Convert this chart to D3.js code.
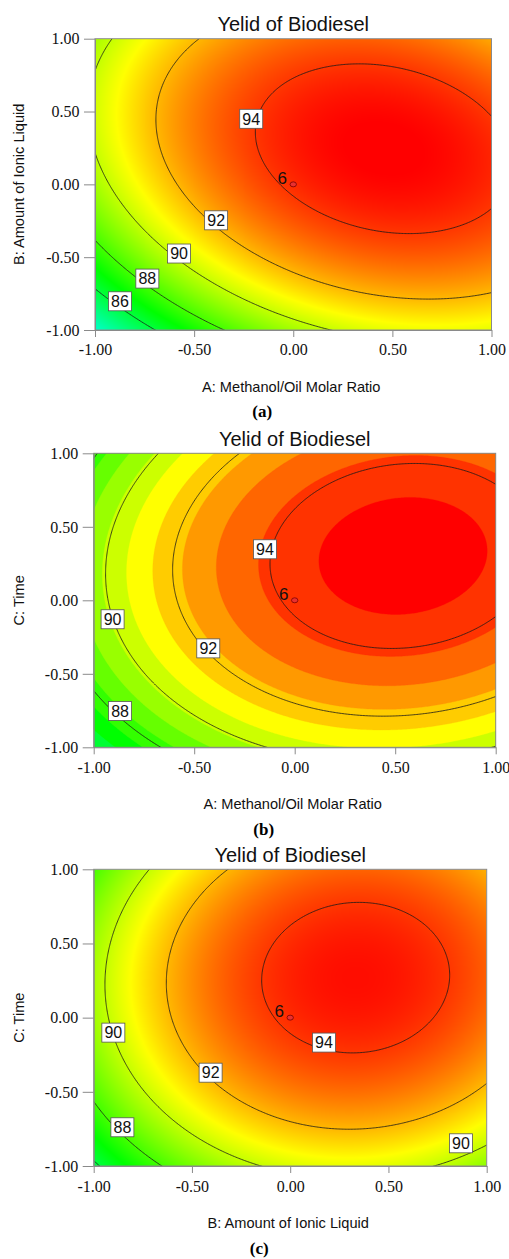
<!DOCTYPE html>
<html><head><meta charset="utf-8">
<script src="https://cdn.jsdelivr.net/npm/d3@7"></script>
<style>body{margin:0;background:#fff}svg{display:block}</style>
</head><body>
<svg id="chart" width="509" height="1259"></svg>
<script>
// ---- data ----
// quadratic response-surface coefficients (coded factors), terms in this order:
const modelTerms = ["Intercept", "A", "B", "C", "AB", "AC", "BC", "A^2", "B^2", "C^2"];
const modelCoefs = [94.168, 2.354, 1.857, 1.311, -0.996, 0.416, 0.186, -2.300, -2.862, -2.545];
const contourLevels = [86, 88, 90, 92, 94];
const tickValues = [-1, -0.5, 0, 0.5, 1];
const tickLabels = ["-1.00", "-0.50", "0.00", "0.50", "1.00"];
const chartTitle = "Yelid of Biodiesel";
const xTitles = ["A: Methanol/Oil Molar Ratio", "A: Methanol/Oil Molar Ratio", "B: Amount of Ionic Liquid"];
const yTitles = ["B: Amount of Ionic Liquid", "C: Time", "C: Time"];
const panelTags = ["(a)", "(b)", "(c)"];
const designPointLabel = "6";
const designPoint = [0, 0];
const gradientStops = [79.05, 83.0, 86.95, 90.9, 94.85];
const gradientColors = ["#0000ff", "#00ffff", "#00ff00", "#ffff00", "#ff0000"];
const bandEdges = [86.76, 87.54, 88.33, 89.11, 89.89, 90.68, 91.46, 92.25, 93.03, 93.82, 94.60];
const bandColors = ["#00ff33", "#00ff00", "#33ff00", "#66ff00", "#99ff00", "#ccff00", "#ffff00", "#ffcc00", "#ff9900", "#ff6600", "#ff3300", "#ff0000"];
// contour label boxes: [level, x-factor value, y-factor value]
const labelsA = [[94, -0.212, 0.45], [92, -0.389, -0.247], [90, -0.576, -0.475], [88, -0.736, -0.647], [86, -0.874, -0.803]];
const labelsB = [[94, -0.148, 0.347], [92, -0.43, -0.327], [90, -0.906, -0.129], [88, -0.869, -0.753]];
const labelsC = [[94, 0.172, -0.168], [92, -0.405, -0.371], [90, -0.9, -0.101], [88, -0.854, -0.739], [90, 0.869, -0.847]];

function model(A, B, C) {
  const t = [1, A, B, C, A * B, A * C, B * C, A * A, B * B, C * C];
  return d3.sum(t, (v, i) => v * modelCoefs[i]);
}

const svg = d3.select("#chart");
const colorScale = d3.scaleLinear().domain(gradientStops).range(gradientColors).interpolate(d3.interpolateRgb).clamp(true);
const bandScale = d3.scaleThreshold().domain(bandEdges).range(bandColors);

const panels = [
  {box: [95, 38.7, 491.5, 330], f: (u, v) => model(u, v, 0), mode: "grad", labels: labelsA, titleY: 30.7, tickY: 355, xtY: 391.5, ytX: 24, tagY: 417},
  {box: [93.7, 453.3, 495.7, 747.3], f: (u, v) => model(u, 0, v), mode: "band", labels: labelsB, titleY: 446, tickY: 773, xtY: 809, ytX: 23.5, tagY: 835},
  {box: [93.7, 869.3, 486.7, 1166], f: (u, v) => model(0, u, v), mode: "grad", labels: labelsC, titleY: 861.7, tickY: 1192, xtY: 1228, ytX: 24, tagY: 1254}
];

panels.forEach((p, pi) => {
  const [x0, y0, x1, y1] = p.box;
  const xs = d3.scaleLinear().domain([-1, 1]).range([x0, x1]);
  const ysc = d3.scaleLinear().domain([-1, 1]).range([y1, y0]);
  const g = svg.append("g");
  const clipId = "clip" + pi;
  g.append("clipPath").attr("id", clipId).append("rect").attr("x", x0).attr("y", y0).attr("width", x1 - x0).attr("height", y1 - y0);
  const plot = g.append("g").attr("clip-path", `url(#${clipId})`);
  const n = 281, lo = -1.05, hi = 1.05;
  const vals = new Array(n * n);
  for (let j = 0; j < n; j++) {
    const v = hi - (hi - lo) * j / (n - 1);
    for (let i = 0; i < n; i++) { const u = lo + (hi - lo) * i / (n - 1); vals[j * n + i] = p.f(u, v); }
  }
  const gx = q => lo + (hi - lo) * (q - 0.5) / (n - 1), gy = q => hi - (hi - lo) * (q - 0.5) / (n - 1);
  const path = d3.geoPath(d3.geoTransform({point: function (x, y) { this.stream.point(xs(gx(x)), ysc(gy(y))); }}));
  if (p.mode === "grad") {
    const W = Math.round(x1 - x0), H = Math.round(y1 - y0);
    const cv = document.createElement("canvas"); cv.width = W; cv.height = H;
    const ctx = cv.getContext("2d"); const img = ctx.createImageData(W, H);
    for (let j = 0; j < H; j++) for (let i = 0; i < W; i++) {
      const u = xs.invert(x0 + (i + 0.5) * (x1 - x0) / W), v = ysc.invert(y0 + (j + 0.5) * (y1 - y0) / H);
      const c = d3.rgb(colorScale(p.f(u, v))); const k = 4 * (j * W + i);
      img.data[k] = c.r; img.data[k + 1] = c.g; img.data[k + 2] = c.b; img.data[k + 3] = 255;
    }
    ctx.putImageData(img, 0, 0);
    plot.append("image").attr("href", cv.toDataURL()).attr("x", x0).attr("y", y0).attr("width", x1 - x0).attr("height", y1 - y0).attr("preserveAspectRatio", "none");
  } else {
    plot.append("rect").attr("x", x0).attr("y", y0).attr("width", x1 - x0).attr("height", y1 - y0).attr("fill", bandColors[0]);
    const bands = d3.contours().size([n, n]).thresholds(bandEdges)(vals);
    plot.selectAll("path.band").data(bands).join("path").attr("class", "band").attr("d", path)
      .attr("fill", d => bandScale(d.value)).attr("stroke", d => bandScale(d.value)).attr("stroke-width", 0.3);
  }
  const lines = d3.contours().size([n, n]).thresholds(contourLevels)(vals);
  plot.selectAll("path.iso").data(lines).join("path").attr("class", "iso").attr("d", path)
    .attr("fill", "none").attr("stroke", "#1a1a1a").attr("stroke-width", 0.8);
  const lg = g.selectAll("g.lab").data(p.labels).join("g").attr("class", "lab")
    .attr("transform", d => `translate(${xs(d[1])},${ysc(d[2])})`);
  lg.append("rect").attr("x", -11.5).attr("y", -9.5).attr("width", 23).attr("height", 19).attr("fill", "#fff").attr("stroke", "#555").attr("stroke-width", 0.8);
  lg.append("text").text(d => d[0]).attr("text-anchor", "middle").attr("dy", "0.36em")
    .style("font", "16px 'Liberation Sans',Arial,sans-serif").attr("fill", "#111");
  g.append("ellipse").attr("cx", xs(designPoint[0])).attr("cy", ysc(designPoint[1])).attr("rx", 3.2).attr("ry", 2.5)
    .attr("fill", "#e83030").attr("stroke", "#7a0000").attr("stroke-width", 0.8);
  g.append("text").text(designPointLabel).attr("x", xs(designPoint[0]) - 11).attr("y", ysc(designPoint[1]) - 0.5).attr("text-anchor", "middle")
    .style("font", "17px 'Liberation Sans',Arial,sans-serif").attr("fill", "#111");
  g.append("rect").attr("x", x0).attr("y", y0).attr("width", x1 - x0).attr("height", y1 - y0).attr("fill", "none").attr("stroke", "#8a8a8a").attr("stroke-width", 1);
  const xa = d3.axisBottom(xs).tickValues(tickValues).tickFormat((d, i) => tickLabels[i]).tickSize(7).tickSizeOuter(0);
  const ya = d3.axisLeft(ysc).tickValues(tickValues).tickFormat((d, i) => tickLabels[i]).tickSize(11).tickSizeOuter(0);
  const gxA = g.append("g").attr("transform", `translate(0,${y1})`).call(xa);
  const gyA = g.append("g").attr("transform", `translate(${x0},0)`).call(ya);
  [gxA, gyA].forEach(a => {
    a.select(".domain").attr("stroke", "#8a8a8a"); a.selectAll(".tick line").attr("stroke", "#8a8a8a");
    a.selectAll(".tick text").style("font", "16px 'Liberation Serif','Times New Roman',serif").attr("fill", "#111");
  });
  gxA.selectAll(".tick text").attr("dy", null).attr("y", p.tickY - y1);
  gyA.selectAll(".tick text").attr("x", -15.5).attr("dy", "0.33em");
  const cx = (x0 + x1) / 2;
  g.append("text").text(chartTitle).attr("x", cx).attr("y", p.titleY).attr("text-anchor", "middle").style("font", "20px 'Liberation Sans',Arial,sans-serif").attr("fill", "#111");
  g.append("text").text(xTitles[pi]).attr("x", cx - 2).attr("y", p.xtY).attr("text-anchor", "middle").style("font", "14.6px 'Liberation Sans',Arial,sans-serif").attr("fill", "#111");
  g.append("text").text(yTitles[pi]).attr("transform", `translate(${p.ytX},${(y0 + y1) / 2}) rotate(-90)`).attr("text-anchor", "middle").style("font", "14.6px 'Liberation Sans',Arial,sans-serif").attr("fill", "#111");
  g.append("text").text(panelTags[pi]).attr("x", cx - 31).attr("y", p.tagY).attr("text-anchor", "middle").style("font", "bold 17px 'Liberation Serif','Times New Roman',serif").attr("fill", "#000");
});
</script>
</body></html>
